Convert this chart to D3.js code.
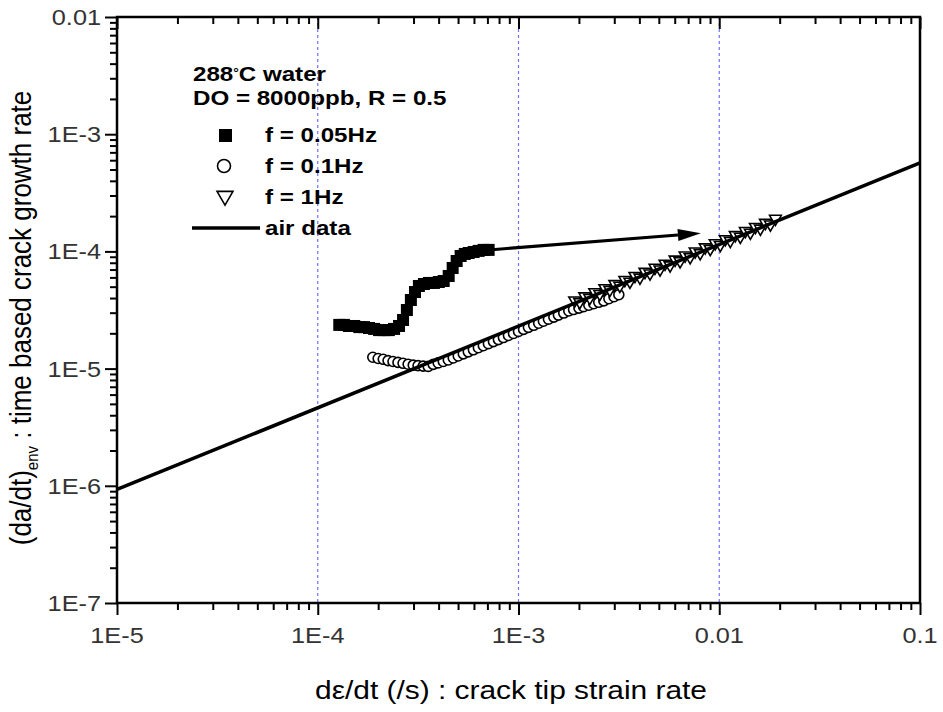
<!DOCTYPE html>
<html>
<head>
<meta charset="utf-8">
<script src="https://cdn.jsdelivr.net/npm/d3@7"></script>
<style>
  body { margin: 0; background: #fff; }
  svg text { font-family: "Liberation Sans", Arial, sans-serif; }
</style>
</head>
<body>
<div class="svg-wrapper"></div>
<script>
// f = 0.05Hz (filled squares)
const sq_x = [1.28e-4, 1.35e-4, 1.43e-4, 1.52e-4, 1.61e-4, 1.70e-4, 1.80e-4, 1.91e-4, 2.02e-4, 2.14e-4, 2.26e-4,
  2.40e-4, 2.54e-4, 2.66e-4, 2.78e-4, 2.91e-4, 3.05e-4, 3.19e-4, 3.38e-4, 3.58e-4, 3.79e-4, 4.01e-4, 4.24e-4,
  4.49e-4, 4.70e-4, 4.92e-4, 5.15e-4, 5.40e-4, 5.65e-4, 5.98e-4, 6.33e-4, 6.70e-4, 7.10e-4];
const sq_y = [2.36e-5, 2.36e-5, 2.31e-5, 2.31e-5, 2.26e-5, 2.26e-5, 2.22e-5, 2.18e-5, 2.13e-5, 2.13e-5, 2.13e-5,
  2.18e-5, 2.31e-5, 2.60e-5, 3.16e-5, 3.85e-5, 4.50e-5, 5.07e-5, 5.27e-5, 5.38e-5, 5.38e-5, 5.48e-5, 5.59e-5,
  6.17e-5, 7.22e-5, 8.28e-5, 9.14e-5, 9.51e-5, 9.69e-5, 9.89e-5, 1.01e-4, 1.03e-4, 1.03e-4];

// f = 0.1Hz (open circles)
const ci_x = [1.88e-4, 2.00e-4, 2.12e-4, 2.24e-4, 2.37e-4, 2.51e-4, 2.66e-4, 2.82e-4, 2.99e-4, 3.16e-4,
  3.35e-4, 3.55e-4, 3.76e-4, 3.98e-4, 4.22e-4, 4.47e-4, 4.73e-4, 5.01e-4, 5.31e-4, 5.62e-4,
  5.96e-4, 6.31e-4, 6.68e-4, 7.08e-4, 7.50e-4, 7.94e-4, 8.41e-4, 8.91e-4, 9.44e-4, 1.00e-3,
  1.06e-3, 1.12e-3, 1.19e-3, 1.26e-3, 1.33e-3, 1.41e-3, 1.50e-3, 1.58e-3, 1.68e-3, 1.78e-3,
  1.88e-3, 2.00e-3, 2.11e-3, 2.24e-3, 2.37e-3, 2.51e-3, 2.66e-3, 2.82e-3, 2.99e-3, 3.16e-3];
const ci_y = [1.25e-5, 1.22e-5, 1.20e-5, 1.17e-5, 1.15e-5, 1.13e-5, 1.11e-5, 1.09e-5, 1.07e-5, 1.06e-5,
  1.05e-5, 1.044e-5, 1.086e-5, 1.118e-5, 1.151e-5, 1.184e-5, 1.232e-5, 1.282e-5, 1.335e-5, 1.390e-5,
  1.447e-5, 1.506e-5, 1.568e-5, 1.632e-5, 1.699e-5, 1.768e-5, 1.841e-5, 1.916e-5, 1.994e-5, 2.076e-5,
  2.161e-5, 2.249e-5, 2.341e-5, 2.437e-5, 2.537e-5, 2.641e-5, 2.749e-5, 2.861e-5, 2.978e-5, 3.100e-5,
  3.190e-5, 3.282e-5, 3.377e-5, 3.475e-5, 3.576e-5, 3.679e-5, 3.786e-5, 3.943e-5, 4.103e-5, 4.270e-5];

// f = 1Hz (open down triangles)
const tr_x = [1.905e-3, 2.018e-3, 2.138e-3, 2.265e-3, 2.399e-3, 2.541e-3, 2.692e-3, 2.851e-3, 3.020e-3, 3.199e-3,
  3.388e-3, 3.589e-3, 3.802e-3, 4.027e-3, 4.266e-3, 4.519e-3, 4.786e-3, 5.070e-3, 5.370e-3, 5.689e-3,
  6.026e-3, 6.383e-3, 6.761e-3, 7.161e-3, 7.586e-3, 8.035e-3, 8.511e-3, 9.016e-3, 9.550e-3, 1.012e-2,
  1.072e-2, 1.135e-2, 1.202e-2, 1.274e-2, 1.349e-2, 1.429e-2, 1.514e-2, 1.603e-2, 1.698e-2, 1.799e-2, 1.905e-2];
const tr_y = [3.822e-5, 3.700e-5, 4.141e-5, 4.009e-5, 4.487e-5, 4.344e-5, 4.862e-5, 4.707e-5, 5.268e-5, 5.099e-5,
  5.708e-5, 5.525e-5, 6.184e-5, 5.986e-5, 6.701e-5, 6.487e-5, 7.260e-5, 7.028e-5, 7.867e-5, 7.615e-5,
  8.523e-5, 8.251e-5, 9.235e-5, 8.940e-5, 1.001e-4, 9.691e-5, 1.084e-4, 1.050e-4, 1.175e-4, 1.137e-4,
  1.273e-4, 1.232e-4, 1.379e-4, 1.335e-4, 1.494e-4, 1.447e-4, 1.619e-4, 1.567e-4, 1.754e-4, 1.698e-4, 1.901e-4];

// air data fit line
const air_x = [1e-5, 0.1];
const air_y = [9.3e-7, 5.7e-4];

// arrow from the 0.05Hz data to the air line
const arrow_x = [7.1e-4, 8.1e-3];
const arrow_y = [1.03e-4, 1.43e-4];

// axes
const x_major = [1e-5, 1e-4, 1e-3, 1e-2, 1e-1];
const x_labels = ["1E-5", "1E-4", "1E-3", "0.01", "0.1"];
const y_major = [1e-7, 1e-6, 1e-5, 1e-4, 1e-3, 1e-2];
const y_labels = ["1E-7", "1E-6", "1E-5", "1E-4", "1E-3", "0.01"];
const grid_x = [1e-4, 1e-3, 1e-2];

const legend_title = ["288", "°", "C water"];
const legend_sub = "DO = 8000ppb, R = 0.5";
const series_names = ["f = 0.05Hz", "f = 0.1Hz", "f = 1Hz", "air data"];

const width = 943, height = 712;
const margin = ({top: 17, right: 20, bottom: 109, left: 117});
const SX = 1.15; // text in the source picture is a bit stretched horizontally

const svg = d3.select(".svg-wrapper")
  .append("svg")
  .attr("width", width)
  .attr("height", height);

const xScale = d3.scaleLog()
  .domain([1e-5, 0.1])
  .range([margin.left, width - margin.right - 3]);

const yScale = d3.scaleLog()
  .domain([1e-7, 0.01])
  .range([height - margin.bottom, margin.top]);

const x0 = xScale.range()[0], x1 = xScale.range()[1];
const y0 = yScale.range()[0], y1 = yScale.range()[1];

const isMajor = d => Math.abs(Math.log10(d) - Math.round(Math.log10(d))) < 1e-6;

// stretched text helper
function stext(g, txt, px, py, size, anchor, weight){
  return g.append("text")
    .attr("transform", `translate(${px},${py}) scale(${SX},1)`)
    .attr("text-anchor", anchor || "start")
    .style("font-size", size + "px")
    .style("font-weight", weight || "normal")
    .text(txt);
}

// grid lines
svg.append("g")
  .selectAll("line")
  .data(grid_x)
  .enter()
  .append("line")
    .attr("x1", d => xScale(d))
    .attr("x2", d => xScale(d))
    .attr("y1", y1)
    .attr("y2", y0)
    .attr("stroke", "#6f6fff")
    .attr("stroke-width", 1.2)
    .attr("stroke-dasharray", "3,3");

// bottom axis (outward ticks)
const xAxisG = svg.append("g")
  .attr("transform", `translate(0,${y0})`)
  .call(d3.axisBottom(xScale).tickValues(xScale.ticks()).tickFormat("").tickSizeOuter(0));
xAxisG.select(".domain").remove();
xAxisG.selectAll(".tick line")
  .attr("y2", d => isMajor(d) ? 12 : 7)
  .attr("stroke-width", 2);

// top axis (inward ticks)
const xTopG = svg.append("g")
  .attr("transform", `translate(0,${y1})`)
  .call(d3.axisTop(xScale).tickValues(xScale.ticks()).tickFormat("").tickSizeOuter(0));
xTopG.select(".domain").remove();
xTopG.selectAll(".tick line")
  .attr("y2", d => isMajor(d) ? 12 : 7)
  .attr("stroke-width", 2);

// left axis (outward ticks)
const yAxisG = svg.append("g")
  .attr("transform", `translate(${x0},0)`)
  .call(d3.axisLeft(yScale).tickValues(yScale.ticks()).tickFormat("").tickSizeOuter(0));
yAxisG.select(".domain").remove();
yAxisG.selectAll(".tick line")
  .attr("x2", d => isMajor(d) ? -12 : -7)
  .attr("stroke-width", 2);

// frame
svg.append("rect")
  .attr("x", x0)
  .attr("y", y1)
  .attr("width", x1 - x0)
  .attr("height", y0 - y1)
  .attr("fill", "none")
  .attr("stroke", "#000")
  .attr("stroke-width", 2.5);

// tick labels
const labG = svg.append("g").attr("fill", "#333");
x_major.forEach((d, i) => stext(labG, x_labels[i], xScale(d), y0 + 40, 22, "middle"));
y_major.forEach((d, i) => stext(labG, y_labels[i], x0 - 16, yScale(d) + 8, 22, "end"));

// axis titles
stext(svg, "dε/dt (/s) : crack tip strain rate", 511, 699, 26, "middle");

const yTitle = svg.append("text")
  .attr("transform", `translate(31,318) scale(${SX},1) rotate(-90)`)
  .attr("text-anchor", "middle")
  .style("font-size", "26px");
yTitle.append("tspan").text("(da/dt)");
yTitle.append("tspan").attr("dy", 6).style("font-size", "15px").text("env");
yTitle.append("tspan").attr("dy", -6).text(" : time based crack growth rate");

// data
const plot = svg.append("g");

plot.append("g")
  .selectAll("rect")
  .data(sq_x.map((d, i) => [d, sq_y[i]]))
  .enter()
  .append("rect")
    .attr("x", d => xScale(d[0]) - 6)
    .attr("y", d => yScale(d[1]) - 6)
    .attr("width", 12)
    .attr("height", 12)
    .attr("fill", "#000");

plot.append("g")
  .selectAll("circle")
  .data(ci_x.map((d, i) => [d, ci_y[i]]))
  .enter()
  .append("circle")
    .attr("cx", d => xScale(d[0]))
    .attr("cy", d => yScale(d[1]))
    .attr("r", 5)
    .attr("fill", "#fff")
    .attr("stroke", "#000")
    .attr("stroke-width", 1.6);

const triSym = d3.symbol().type(d3.symbolTriangle).size(60);
plot.append("g")
  .selectAll("path")
  .data(tr_x.map((d, i) => [d, tr_y[i]]))
  .enter()
  .append("path")
    .attr("d", triSym)
    .attr("transform", d => `translate(${xScale(d[0])},${yScale(d[1])}) rotate(180)`)
    .attr("fill", "#fff")
    .attr("stroke", "#000")
    .attr("stroke-width", 1.6);

const lineGen = d3.line()
  .x(d => xScale(d[0]))
  .y(d => yScale(d[1]));

plot.append("path")
  .attr("d", lineGen(air_x.map((d, i) => [d, air_y[i]])))
  .attr("fill", "none")
  .attr("stroke", "#000")
  .attr("stroke-width", 3.5);

// arrow
const ax0 = xScale(arrow_x[0]), ay0 = yScale(arrow_y[0]);
const ax1 = xScale(arrow_x[1]), ay1 = yScale(arrow_y[1]);
const ang = Math.atan2(ay1 - ay0, ax1 - ax0);
const headLen = 23, headW = 6;
const bx = ax1 - headLen * Math.cos(ang), by = ay1 - headLen * Math.sin(ang);
plot.append("line")
  .attr("x1", ax0).attr("y1", ay0)
  .attr("x2", bx).attr("y2", by)
  .attr("stroke", "#000")
  .attr("stroke-width", 3);
plot.append("path")
  .attr("d", `M${ax1},${ay1} L${bx - headW * Math.sin(ang)},${by + headW * Math.cos(ang)} L${bx + headW * Math.sin(ang)},${by - headW * Math.cos(ang)} Z`)
  .attr("fill", "#000");

// legend
const leg = svg.append("g");
const t1 = leg.append("text")
  .attr("transform", `translate(193,81) scale(${SX},1)`)
  .style("font-size", "21px")
  .style("font-weight", "bold");
t1.append("tspan").text(legend_title[0]);
t1.append("tspan").attr("dy", -4).style("font-size", "12px").text(legend_title[1]);
t1.append("tspan").attr("dy", 4).text(legend_title[2]);

stext(leg, legend_sub, 193, 105, 21, "start", "bold");

leg.append("rect")
  .attr("x", 219).attr("y", 129)
  .attr("width", 13).attr("height", 13)
  .attr("fill", "#000");
stext(leg, series_names[0], 265, 142, 21, "start", "bold");

leg.append("circle")
  .attr("cx", 224).attr("cy", 166).attr("r", 6.5)
  .attr("fill", "#fff").attr("stroke", "#000").attr("stroke-width", 1.6);
stext(leg, series_names[1], 265, 173, 21, "start", "bold");

leg.append("path")
  .attr("d", d3.symbol().type(d3.symbolTriangle).size(110))
  .attr("transform", "translate(225,196) rotate(180)")
  .attr("fill", "#fff").attr("stroke", "#000").attr("stroke-width", 1.6);
stext(leg, series_names[2], 265, 204, 21, "start", "bold");

leg.append("line")
  .attr("x1", 192).attr("x2", 260)
  .attr("y1", 228).attr("y2", 228)
  .attr("stroke", "#000").attr("stroke-width", 3.5);
stext(leg, series_names[3], 265, 235, 21, "start", "bold");
</script>
</body>
</html>
